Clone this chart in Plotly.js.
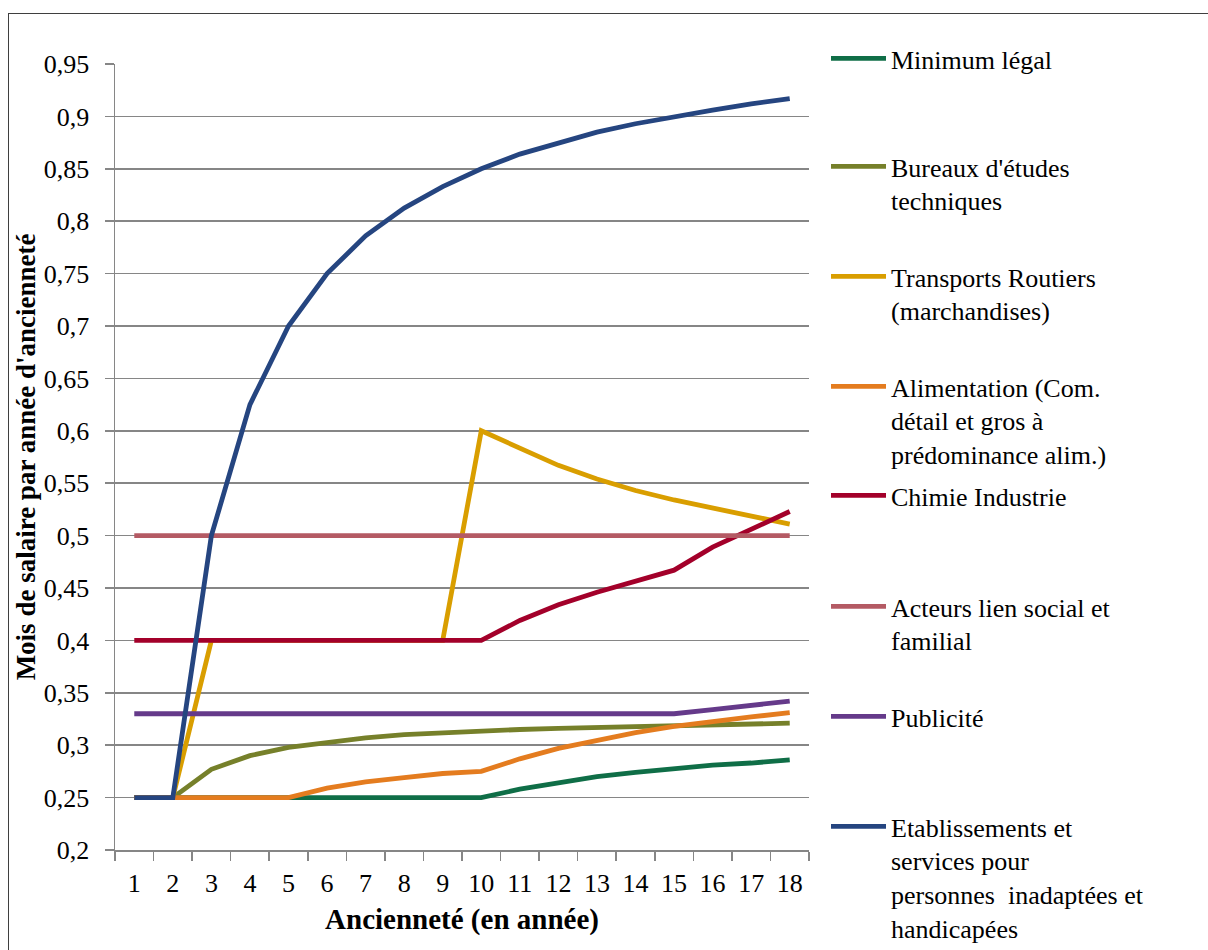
<!DOCTYPE html>
<html>
<head>
<meta charset="utf-8">
<script src="https://cdn.plot.ly/plotly-3.0.1.min.js"></script>
<style>
  html, body { margin: 0; padding: 0; background: #ffffff; overflow: hidden; }
  #wrap { position: relative; width: 1208px; height: 950px; }
  #chart { position: absolute; left: 0; top: 0; width: 1208px; height: 950px; }
  #frame { position: absolute; left: 8px; top: 13px; width: 1300px; height: 1000px;
           border: 1.5px solid #3f3f3f; pointer-events: none; }
</style>
</head>
<body>
<div id="wrap">
  <div id="chart"></div>
  <div id="frame"></div>
</div>
<script>
// Categories (ancienneté, années)
const categories = ['1','2','3','4','5','6','7','8','9','10','11','12','13','14','15','16','17','18'];

// Series values (mois de salaire par année d'ancienneté)
const minimumLegal     = [0.25,0.25,0.25,0.25,0.25,0.25,0.25,0.25,0.25,0.25,0.258,0.264,0.270,0.274,0.278,0.281,0.283,0.286];
const bureauxEtudes    = [0.25,0.25,0.277,0.290,0.298,0.303,0.307,0.310,0.312,0.314,0.315,0.316,0.317,0.318,0.319,0.320,0.320,0.321];
const transports       = [0.25,0.25,0.40,0.40,0.40,0.40,0.40,0.40,0.40,0.60,0.583,0.567,0.554,0.543,0.534,0.526,0.519,0.511];
const alimentation     = [0.25,0.25,0.25,0.25,0.25,0.259,0.265,0.269,0.273,0.275,0.287,0.297,0.305,0.312,0.318,0.323,0.327,0.331];
const chimie           = [0.40,0.40,0.40,0.40,0.40,0.40,0.40,0.40,0.40,0.40,0.419,0.434,0.446,0.457,0.467,0.489,0.506,0.523];
const acteursLien      = [0.50,0.50,0.50,0.50,0.50,0.50,0.50,0.50,0.50,0.50,0.50,0.50,0.50,0.50,0.50,0.50,0.50,0.50];
const publicite        = [0.33,0.33,0.33,0.33,0.33,0.33,0.33,0.33,0.33,0.33,0.33,0.33,0.33,0.33,0.33,0.334,0.338,0.342];
const etablissements   = [0.25,0.25,0.50,0.625,0.70,0.75,0.786,0.8125,0.833,0.85,0.864,0.875,0.885,0.893,0.90,0.906,0.912,0.917];

// Series names
const seriesNames = [
  'Minimum légal',
  "Bureaux d'études<br>techniques",
  'Transports Routiers<br>(marchandises)',
  'Alimentation (Com.<br>détail et gros à<br>prédominance alim.)',
  'Chimie Industrie',
  'Acteurs lien social et<br>familial',
  'Publicité',
  'Etablissements et<br>services pour<br>personnes\u00a0 inadaptées et<br>handicapées'
];
const seriesValues = [minimumLegal, bureauxEtudes, transports, alimentation, chimie, acteursLien, publicite, etablissements];
const seriesColors = ['#0f6e47','#76802a','#d99e00','#e47c1f','#a3002a','#b45a64','#653a8a','#254580'];

// Layout geometry (pixels)
const W = 1208, H = 950;
const mL = 115, mR = 399, mT = 64, mB = 100;
const plotH = H - mT - mB;
const plotW = W - mL - mR;
// legend first-line centres (px from top)
const legendLineY = [57, 165, 275, 385, 494, 605, 715, 825];
const legendLeftPx = 826;

const serif = '"Liberation Serif", "Times New Roman", serif';
const legendNames = ['legend','legend2','legend3','legend4','legend5','legend6','legend7','legend8'];

const traces = seriesValues.map((vals, i) => ({
  type: 'scatter',
  mode: 'lines',
  x: categories,
  y: vals,
  name: seriesNames[i],
  legend: legendNames[i],
  line: { color: seriesColors[i], width: 4.8 },
  hoverinfo: 'x+y+name'
}));

const layout = {
  width: W, height: H,
  paper_bgcolor: '#ffffff',
  plot_bgcolor: '#ffffff',
  separators: ', ',
  margin: { l: mL, r: mR, t: mT, b: mB, pad: 0, autoexpand: false },
  font: { family: serif, color: '#000000', size: 25 },
  showlegend: true,
  xaxis: {
    type: 'category',
    automargin: false,
    range: [-0.5, 17.5],
    tickson: 'boundaries',
    ticks: 'outside',
    ticklen: 9,
    tickwidth: 1.5,
    tickcolor: '#868686',
    ticklabelstandoff: 9,
    showline: true,
    linecolor: '#868686',
    linewidth: 1.5,
    showgrid: false,
    zeroline: false,
    tickfont: { family: serif, size: 26, color: '#000000' },
    title: { text: '<b>Ancienneté (en année)</b>', font: { family: serif, size: 29, color: '#000000' }, standoff: 12 }
  },
  yaxis: {
    automargin: false,
    range: [0.2, 0.95],
    dtick: 0.05,
    tick0: 0.2,
    tickformat: '.2~f',
    ticks: 'outside',
    ticklen: 9,
    tickwidth: 1.5,
    tickcolor: '#868686',
    ticklabelstandoff: 10,
    showline: true,
    linecolor: '#868686',
    linewidth: 1.5,
    showgrid: true,
    gridcolor: '#868686',
    gridwidth: 1.5,
    zeroline: false,
    tickfont: { family: serif, size: 26, color: '#000000' },
    title: { text: "<b>Mois de salaire par année d'ancienneté</b>", font: { family: serif, size: 27, color: '#000000' }, standoff: 0 }
  }
};

legendNames.forEach((ln, i) => {
  const topPx = legendLineY[i] - 22;
  layout[ln] = {
    x: (legendLeftPx - mL) / plotW,
    xanchor: 'left',
    y: (H - mB - topPx) / plotH,
    yanchor: 'top',
    valign: 'top',
    bgcolor: 'rgba(0,0,0,0)',
    borderwidth: 0,
    itemwidth: 55,
    font: { family: serif, size: 26, color: '#000000' }
  };
});

Plotly.newPlot('chart', traces, layout, { displayModeBar: false, staticPlot: true });
</script>
</body>
</html>
